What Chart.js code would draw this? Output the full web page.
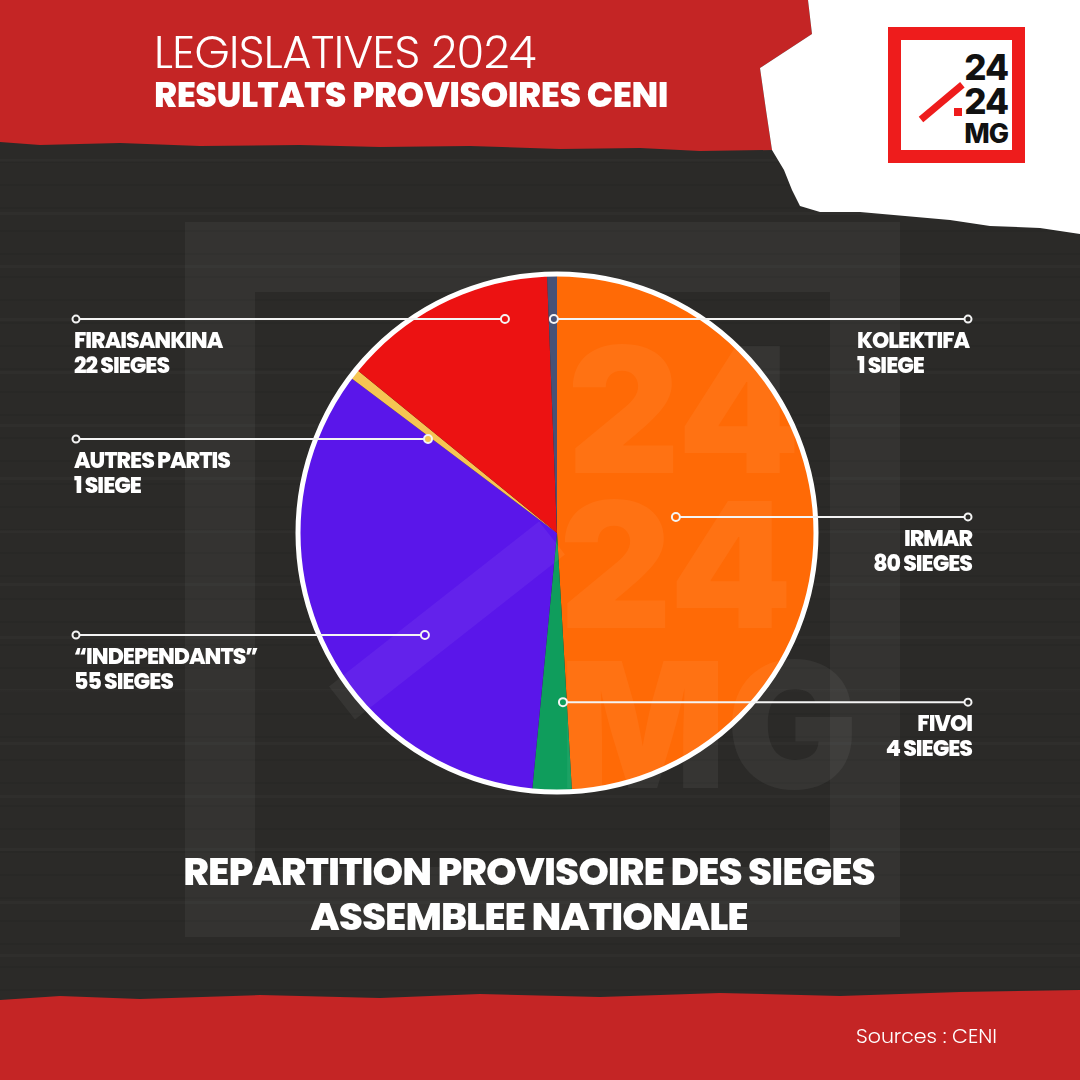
<!DOCTYPE html>
<html>
<head>
<meta charset="utf-8">
<script src="https://cdn.jsdelivr.net/npm/chart.js@4/dist/chart.umd.min.js"></script>
<style>
  html, body { margin: 0; padding: 0; }
  body {
    width: 1080px; height: 1080px; position: relative; overflow: hidden;
    background: #2b2a28;
    font-family: Poppins, Inter, "Open Sans", sans-serif;
    color: #fff;
  }
  .streaks {
    position: absolute; left: 0; top: 0; width: 1080px; height: 1080px;
    background:
      repeating-linear-gradient(180deg, rgba(0,0,0,0.06) 0 2px, rgba(0,0,0,0) 2px 23px),
      repeating-linear-gradient(180deg, rgba(255,255,255,0.018) 0 3px, rgba(255,255,255,0) 3px 53px);
  }
  .frame {
    position: absolute; left: 185px; top: 222px; width: 715px; height: 715px;
    box-sizing: border-box; border: 70px solid rgba(255,255,255,0.045);
  }
  svg.deco { position: absolute; left: 0; top: 0; }
  #pie { position: absolute; left: 0; top: 0; }
  .t1 { position: absolute; left: 154px; top: 19px; font-size: 45px; font-weight: 300; letter-spacing: -0.6px; white-space: nowrap; }
  .t2 { position: absolute; left: 154px; top: 68px; font-size: 35px; font-weight: 800; letter-spacing: -0.5px; white-space: nowrap; }
  .logo {
    position: absolute; left: 888px; top: 27px; width: 137px; height: 136px;
    box-sizing: border-box; border: 13px solid #ee1c1c; background: #fff;
  }
  .logo .n { position: absolute; right: 4px; color: #111; font-weight: 800; font-family: Inter, "Open Sans", sans-serif; letter-spacing: -1px; line-height: 1; }
  .logo .slash { position: absolute; left: 20px; top: 76px; width: 54px; height: 7px; background: #ee1c1c; transform: rotate(-40deg); transform-origin: left center; }
  .logo .dot { position: absolute; left: 53px; top: 68px; width: 8px; height: 8px; background: #ee1c1c; }
  .lbl { position: absolute; font-size: 22px; font-weight: 800; line-height: 25px; letter-spacing: -1px; white-space: nowrap; }
  .bottom { position: absolute; left: 0; width: 1058px; text-align: center; font-size: 39px; font-weight: 800; letter-spacing: -1px; line-height: 44px; white-space: nowrap; }
  .src { position: absolute; left: 856px; top: 1020px; font-size: 20.5px; font-weight: 300; white-space: nowrap; }
</style>
</head>
<body>
<div class="streaks"></div>
<div class="frame"></div>
<svg class="deco" width="1080" height="1080">
  <polygon fill="#c42525" points="0,0 808,0 812,34 760,68 766,110 772,150 700,151 640,148 560,149 470,146 380,147 300,145 200,146 120,143 40,145 0,142"/>
  <polygon fill="#ffffff" points="808,0 1080,0 1080,234 1040,228 990,226 950,220 905,216 860,212 820,212 800,206 792,190 784,170 772,150 766,110 760,68 812,34"/>
  <polygon fill="#c42525" points="0,1000 60,996 140,999 260,995 380,998 480,994 600,997 720,993 840,996 960,992 1080,990 1080,1080 0,1080"/>
</svg>
<canvas id="pie" width="1080" height="1080"></canvas>

<div class="t1">LEGISLATIVES 2024</div>
<div class="t2">RESULTATS PROVISOIRES CENI</div>
<div class="logo">
  <div class="slash"></div><div class="dot"></div>
  <div class="n" style="top:10px;font-size:35px;">24</div>
  <div class="n" style="top:44px;font-size:35px;">24</div>
  <div class="n" style="top:80px;font-size:27px;">MG</div>
</div>
<div class="bottom" style="top:850px;">REPARTITION PROVISOIRE DES SIEGES</div>
<div class="bottom" style="top:895px;">ASSEMBLEE NATIONALE</div>
<div class="src">Sources : CENI</div>

<script>
// seats per party, clockwise from 12 o'clock
const parties = ["IRMAR", "FIVOI", "\u201CINDEPENDANTS\u201D", "AUTRES PARTIS", "FIRAISANKINA", "KOLEKTIFA"];
const seats = [80, 4, 55, 1, 22, 1];
const partyColors = ["#ff6a06", "#0f9d5c", "#5a16ea", "#f6c553", "#ec1212", "#475277"];

// callout dots as fraction of the pie radius from its centre, and label placement
const dotOffsets = [[0.459, -0.062], [0.023, 0.653], [-0.510, 0.394], [-0.498, -0.363], [-0.201, -0.826], [-0.012, -0.826]];
const labelSide = ["right", "right", "left", "left", "left", "rightStart"];

const seatText = (n) => n + (n > 1 ? " SIEGES" : " SIEGE");

const callouts = {
  id: "callouts",
  afterDatasetsDraw(chart) {
    const ctx = chart.ctx;
    const arc = chart.getDatasetMeta(0).data[0];
    const cx = arc.x, cy = arc.y, r = arc.outerRadius;

    ctx.save();
    // outer white rim
    ctx.beginPath();
    ctx.arc(cx, cy, r, 0, Math.PI * 2);
    ctx.strokeStyle = "#ffffff";
    ctx.lineWidth = 5;
    ctx.stroke();

    // faint watermark logo
    ctx.fillStyle = "rgba(255,255,255,0.055)";
    ctx.font = "900 175px Inter, 'Open Sans', sans-serif";
    ctx.textBaseline = "alphabetic";
    ctx.fillText("24", cx + 10, cy - 60);
    ctx.fillText("24", cx + 2, cy + 95);
    ctx.fillText("MG", cx + 2, cy + 255);
    ctx.strokeStyle = "rgba(255,255,255,0.055)";
    ctx.lineWidth = 42;
    ctx.beginPath();
    ctx.moveTo(cx - 215, cy + 170);
    ctx.lineTo(cx - 5, cy + 5);
    ctx.stroke();

    // leader lines
    ctx.lineWidth = 2;
    ctx.strokeStyle = "#f4f4f4";
    dotOffsets.forEach((d, i) => {
      const x = cx + d[0] * r, y = cy + d[1] * r;
      const endX = labelSide[i] === "left" ? 76 : 968;
      ctx.beginPath();
      ctx.moveTo(x, y);
      ctx.lineTo(endX, y);
      ctx.stroke();
      ctx.beginPath();
      ctx.arc(endX, y, 3.5, 0, Math.PI * 2);
      ctx.fillStyle = "#2a2927";
      ctx.fill();
      ctx.stroke();
      ctx.beginPath();
      ctx.arc(x, y, 4, 0, Math.PI * 2);
      ctx.fillStyle = partyColors[i];
      ctx.fill();
      ctx.stroke();
    });
    ctx.restore();
  },
  afterRender(chart) {
    if (document.querySelector(".lbl")) return;
    const arc = chart.getDatasetMeta(0).data[0];
    dotOffsets.forEach((d, i) => {
      const y = arc.y + d[1] * arc.outerRadius;
      const el = document.createElement("div");
      el.className = "lbl";
      el.innerHTML = parties[i] + "<br>" + seatText(seats[i]);
      el.style.top = (y + 9) + "px";
      if (labelSide[i] === "left") el.style.left = "74px";
      else if (labelSide[i] === "rightStart") el.style.left = "857px";
      else { el.style.right = "108px"; el.style.textAlign = "right"; }
      document.body.appendChild(el);
    });
  }
};

new Chart(document.getElementById("pie"), {
  type: "pie",
  data: {
    labels: parties,
    datasets: [{
      data: seats,
      backgroundColor: partyColors,
      borderWidth: 0,
      hoverBorderWidth: 0,
      hoverOffset: 0
    }]
  },
  options: {
    responsive: false,
    animation: false,
    events: [],
    layout: { padding: { left: 298, right: 264, top: 274, bottom: 288 } },
    plugins: { legend: { display: false }, tooltip: { enabled: false } }
  },
  plugins: [callouts]
});
</script>
</body>
</html>
